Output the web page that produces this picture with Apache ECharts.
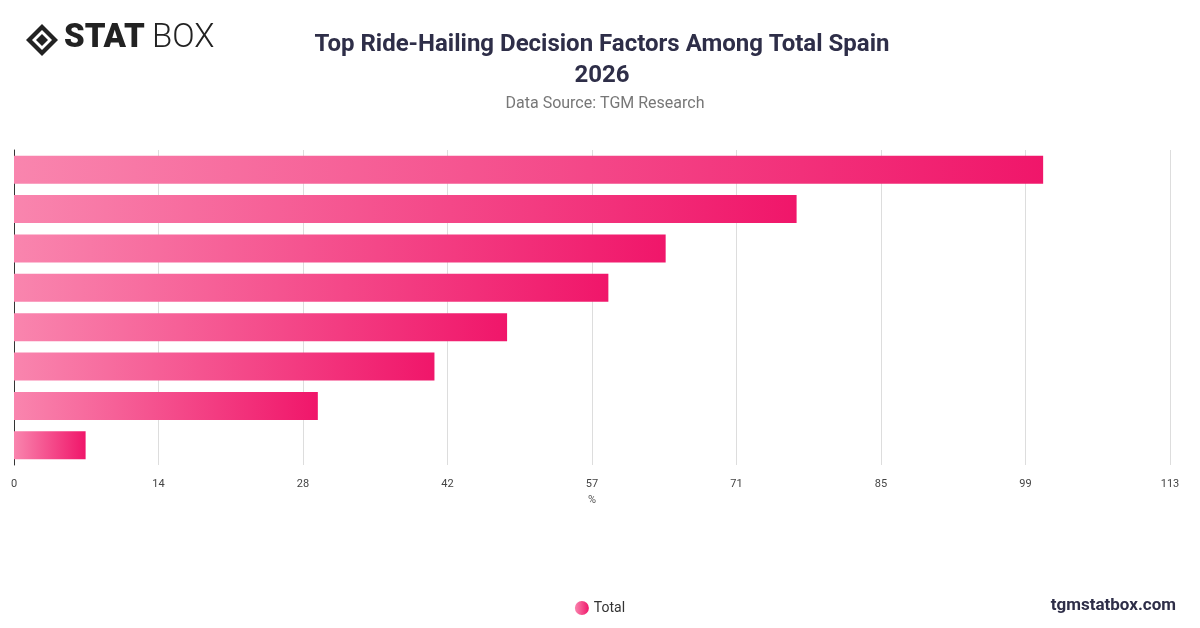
<!DOCTYPE html>
<html><head><meta charset="utf-8">
<script src="https://cdn.jsdelivr.net/npm/echarts@6/dist/echarts.min.js"></script>
<style>html,body{margin:0;padding:0;background:#fff}#c{width:1200px;height:628px}</style>
</head><body><div id="c"></div>
<script>
const categories = ["Factor 1","Factor 2","Factor 3","Factor 4","Factor 5","Factor 6","Factor 7","Factor 8"];
const totalValues = [100.6, 76.5, 63.7, 58.1, 48.2, 41.1, 29.7, 7.0];
const xMax = 113;
const chart = echarts.init(document.getElementById('c'));
const grad = new echarts.graphic.LinearGradient(0,0,1,0,[{offset:0,color:'#f985ae'},{offset:1,color:'#f0166a'}]);
chart.setOption({
  animation:false,
  title:[
    {text:'Top Ride-Hailing Decision Factors Among Total Spain\n2026',left:597,top:24,textAlign:'center',
     textStyle:{fontFamily:'Roboto',fontSize:24,fontWeight:'bold',color:'#2e2e48',lineHeight:31}},
    {text:'Data Source: TGM Research',left:600,top:91,textAlign:'center',
     textStyle:{fontFamily:'Roboto',fontSize:16,fontWeight:'normal',color:'#777'}}
  ],
  graphic:[
    {type:'group',left:26,top:24,children:[
      {type:'polygon',shape:{points:[[16,0],[32,16],[16,32],[0,16]]},style:{fill:'#222'}},
      {type:'polygon',shape:{points:[[16,6],[26,16],[16,26],[6,16]]},style:{fill:'#fff'}},
      {type:'polygon',shape:{points:[[16,10],[22,16],[16,22],[10,16]]},style:{fill:'#222'}}
    ]},
    {type:'text',left:64,top:22,style:{text:'STAT',fontFamily:'Roboto',fontWeight:900,fontSize:33,fill:'#222'}},
    {type:'text',left:152,top:22,style:{text:'BOX',fontFamily:'Roboto',fontWeight:300,fontSize:33,fill:'#222'}},
    {type:'text',right:24,top:597,style:{text:'tgmstatbox.com',fontFamily:'Roboto',fontWeight:'bold',fontSize:17,fill:'#2e2e48'}}
  ],
  legend:{bottom:8,left:'center',itemWidth:14,itemHeight:14,icon:'circle',
    textStyle:{fontFamily:'Roboto',fontSize:14,color:'#333'},data:['Total']},
  grid:{left:14,right:30,top:150,bottom:163,containLabel:false},
  xAxis:{type:'value',min:0,max:xMax,interval:xMax/8,name:'%',nameLocation:'middle',nameGap:28,
    nameTextStyle:{fontFamily:'Roboto',fontSize:11,color:'#555'},
    axisLabel:{formatter:v=>Math.round(v),fontFamily:'Roboto',fontSize:11,color:'#444',margin:14},
    axisLine:{show:false},axisTick:{show:false},
    splitLine:{lineStyle:{color:'#ddd'}}},
  yAxis:{type:'category',data:categories,inverse:true,
    axisLabel:{show:false},axisTick:{show:false},
    axisLine:{show:true,lineStyle:{color:'#333'}}},
  series:[{name:'Total',type:'bar',data:totalValues,barWidth:28,
    itemStyle:{color:grad},label:{show:false}}]
});
</script></body></html>
